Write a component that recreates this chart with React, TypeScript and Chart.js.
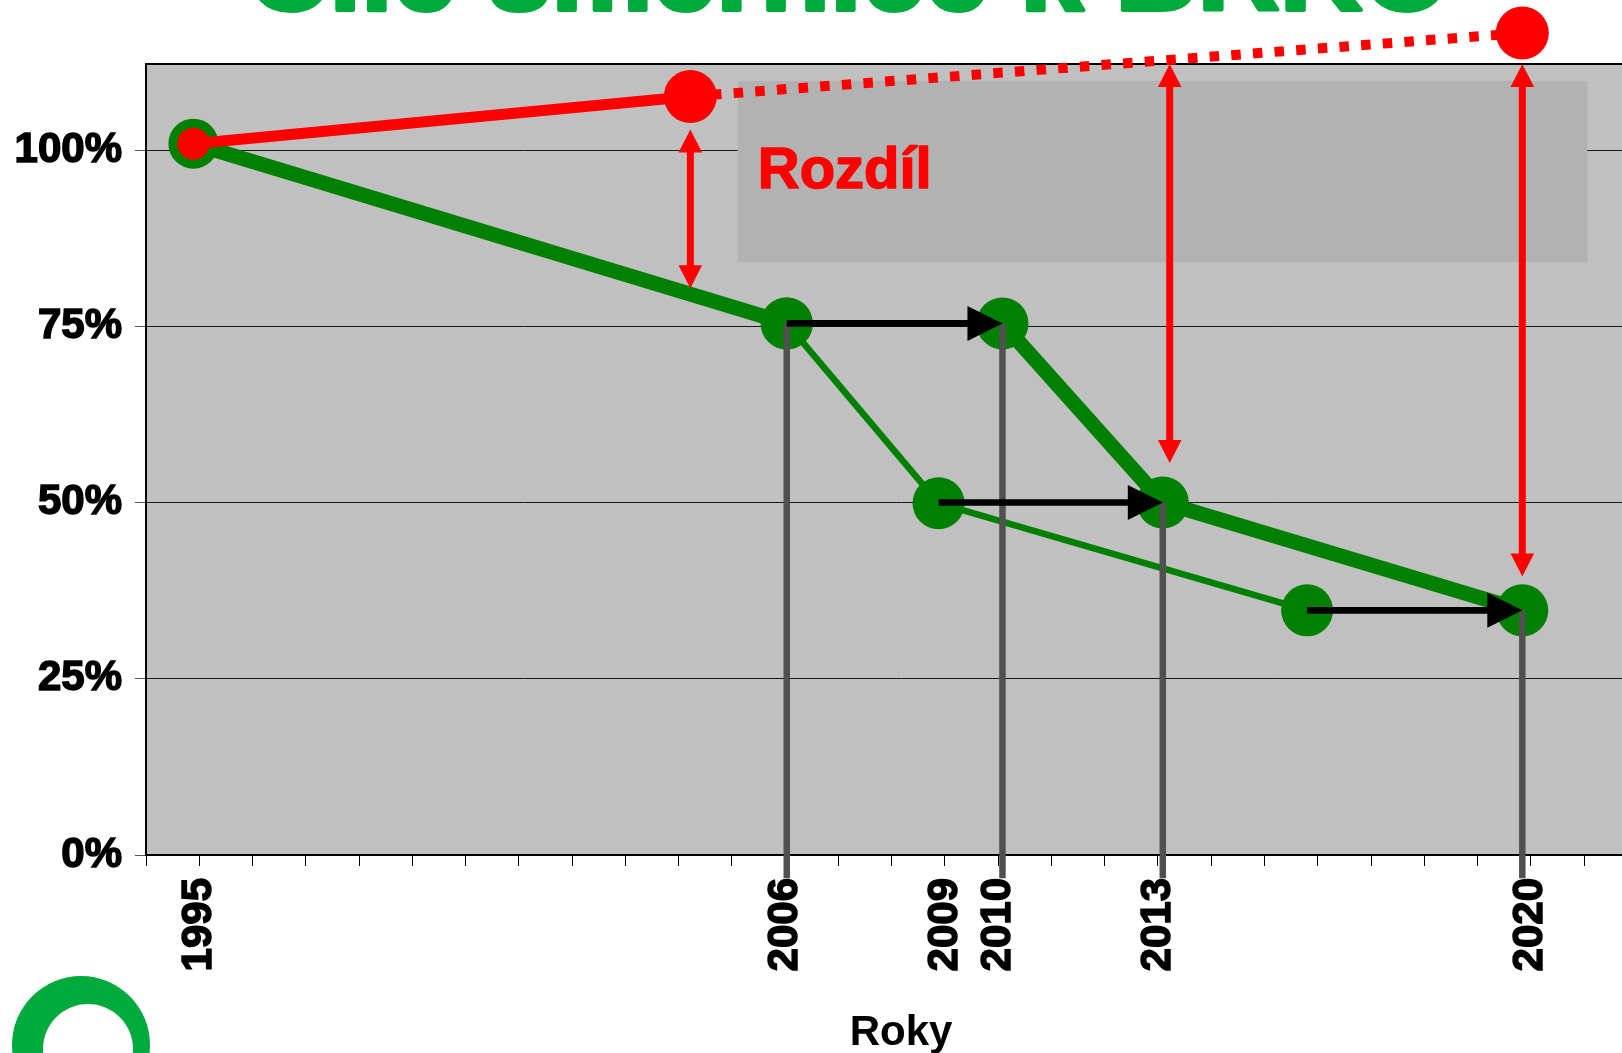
import React, { useEffect, useRef } from 'react';
import { Chart, registerables } from 'chart.js';

Chart.register(...registerables);

const FONT = "'Liberation Sans', Arial, Helvetica, sans-serif";

// ---- texts ----
const titleText = 'Cíle směrnice k BRKO';
const xAxisTitle = 'Roky';
const gapLabel = 'Rozdíl';

// ---- axes ----
const yearTicks = [1994, 1995, 1996, 1997, 1998, 1999, 2000, 2001, 2002, 2003, 2004, 2005, 2006, 2007,
  2008, 2009, 2010, 2011, 2012, 2013, 2014, 2015, 2016, 2017, 2018, 2019, 2020, 2021, 2022];
const labeledYears = [1995, 2006, 2009, 2010, 2013, 2020];
const yTickValues = [0, 25, 50, 75, 100];
const xMin = 1994;
const xMax = 2022.35;
const yMin = 0;
const yMax = 112.2;

// ---- red series (target, solid then dotted) ----
const targetYears = [1994.89, 2004.22, 2019.84];
const targetValues = [100.9, 107.6, 116.6];

// ---- thick green series (directive path; break between 2006 and 2010) ----
const directiveYears = [1994.89, 2006.03, 2008.0, 2010.08, 2013.09, 2019.84];
const directiveValues = [100.9, 75.4, null, 75.4, 50, 34.7];

// ---- thin green series (original plan) ----
const planYears = [2006.03, 2008.88, 2015.8];
const planValues = [75.4, 49.9, 34.7];

// ---- black shift arrows ----
const shiftFromYears = [2006.03, 2008.88, 2015.8];
const shiftToYears = [2010.08, 2013.09, 2019.84];
const shiftValues = [75.4, 50, 34.7];

// ---- red difference arrows ----
const gapYears = [2004.22, 2013.22, 2019.84];
const gapTopValues = [102.9, 112.2, 112.2];
const gapBottomValues = [80.4, 55.6, 39.5];

// ---- grey drop lines ----
const dropYears = [2006.03, 2010.08, 2013.09, 2019.84];
const dropValues = [75.4, 75.4, 50, 34.7];
const dropEndValue = -3.3;

// ---- "Rozdíl" highlighted region ----
const boxYears = [2005.11, 2021.06];
const boxValues = [84.1, 109.8];

function arrowHead(ctx: CanvasRenderingContext2D, tipX: number, tipY: number, dx: number, dy: number, len: number, halfW: number) {
  const bx = tipX - dx * len;
  const by = tipY - dy * len;
  const px = -dy;
  const py = dx;
  ctx.beginPath();
  ctx.moveTo(tipX, tipY);
  ctx.lineTo(bx + px * halfW, by + py * halfW);
  ctx.lineTo(bx - px * halfW, by - py * halfW);
  ctx.closePath();
  ctx.fill();
}

const decorPlugin = {
  id: 'decor',
  beforeDraw(chart: any) {
    const { ctx, chartArea: a } = chart;
    ctx.save();
    ctx.fillStyle = '#FFFFFF';
    ctx.fillRect(0, 0, chart.width, chart.height);
    ctx.fillStyle = '#C0C0C0';
    ctx.fillRect(a.left, a.top, a.right - a.left, a.bottom - a.top);
    ctx.restore();
  },
  beforeDatasetsDraw(chart: any) {
    const { ctx, chartArea: a, scales } = chart;
    const x = scales.x;
    const y = scales.y;
    ctx.save();
    const bx0 = x.getPixelForValue(boxYears[0]);
    const bx1 = x.getPixelForValue(boxYears[1]);
    const by0 = y.getPixelForValue(boxValues[1]);
    const by1 = y.getPixelForValue(boxValues[0]);
    ctx.fillStyle = '#B2B2B2';
    ctx.fillRect(bx0, by0, bx1 - bx0, by1 - by0);
    // top border of plot
    ctx.strokeStyle = '#000000';
    ctx.lineWidth = 2;
    ctx.beginPath();
    ctx.moveTo(a.left, a.top);
    ctx.lineTo(a.right, a.top);
    ctx.stroke();
    ctx.restore();
  },
  afterDatasetsDraw(chart: any) {
    const { ctx, scales, chartArea: a } = chart;
    const x = scales.x;
    const y = scales.y;
    ctx.save();
    // points lying outside the plot area (the library skips them)
    chart.data.datasets.forEach((_ds: any, di: number) => {
      const meta = chart.getDatasetMeta(di);
      meta.data.forEach((pt: any) => {
        if (pt.skip) return;
        const r = pt.options.radius;
        const inside = pt.x > a.left - r && pt.x < a.right + r && pt.y > a.top - r && pt.y < a.bottom + r;
        if (!inside) {
          ctx.fillStyle = pt.options.backgroundColor;
          ctx.beginPath();
          ctx.arc(pt.x, pt.y, r, 0, Math.PI * 2);
          ctx.fill();
        }
      });
    });
    // grey drop lines
    ctx.strokeStyle = '#505050';
    ctx.lineWidth = 6.5;
    ctx.lineCap = 'butt';
    dropYears.forEach((yr, i) => {
      const px = x.getPixelForValue(yr);
      ctx.beginPath();
      ctx.moveTo(px, y.getPixelForValue(dropValues[i]));
      ctx.lineTo(px, y.getPixelForValue(dropEndValue));
      ctx.stroke();
    });
    // black shift arrows
    ctx.strokeStyle = '#000000';
    ctx.fillStyle = '#000000';
    ctx.lineWidth = 6.7;
    shiftFromYears.forEach((yr, i) => {
      const x0 = x.getPixelForValue(yr);
      const x1 = x.getPixelForValue(shiftToYears[i]);
      const py = y.getPixelForValue(shiftValues[i]);
      ctx.beginPath();
      ctx.moveTo(x0, py);
      ctx.lineTo(x1 - 34, py);
      ctx.stroke();
      arrowHead(ctx, x1, py, 1, 0, 35, 17.5);
    });
    // red difference arrows
    ctx.strokeStyle = '#FF0000';
    ctx.fillStyle = '#FF0000';
    ctx.lineWidth = 7;
    gapYears.forEach((yr, i) => {
      const px = x.getPixelForValue(yr);
      const top = y.getPixelForValue(gapTopValues[i]);
      const bot = y.getPixelForValue(gapBottomValues[i]);
      ctx.beginPath();
      ctx.moveTo(px, top + 22);
      ctx.lineTo(px, bot - 22);
      ctx.stroke();
      arrowHead(ctx, px, top, 0, -1, 23, 11.8);
      arrowHead(ctx, px, bot, 0, 1, 23, 11.8);
    });
    // label in the box
    const bx0 = x.getPixelForValue(boxYears[0]);
    const by0 = y.getPixelForValue(boxValues[1]);
    ctx.fillStyle = '#FF0000';
    ctx.strokeStyle = '#FF0000';
    ctx.lineWidth = 1.5;
    ctx.lineJoin = 'round';
    ctx.font = `bold 58px ${FONT}`;
    ctx.textAlign = 'left';
    ctx.textBaseline = 'alphabetic';
    ctx.fillText(gapLabel, bx0 + 20, by0 + 107);
    ctx.strokeText(gapLabel, bx0 + 20, by0 + 107);
    ctx.restore();
  },
  afterDraw(chart: any) {
    const { ctx } = chart;
    ctx.save();
    // title (cropped at the top of the picture)
    ctx.fillStyle = '#00AA3C';
    ctx.strokeStyle = '#00AA3C';
    ctx.lineWidth = 4;
    ctx.lineJoin = 'round';
    ctx.font = `bold 114px ${FONT}`;
    ctx.textAlign = 'left';
    ctx.textBaseline = 'alphabetic';
    ctx.fillText(titleText, 247, 10);
    ctx.strokeText(titleText, 247, 10);
    // logo ring (bottom-left)
    ctx.beginPath();
    ctx.arc(81, 1045, 69, 0, Math.PI * 2);
    ctx.arc(88, 1049, 45, 0, Math.PI * 2, true);
    ctx.fill('evenodd');
    ctx.restore();
  },
};

export default function App() {
  const canvasRef = useRef<HTMLCanvasElement | null>(null);

  useEffect(() => {
    const canvas = canvasRef.current;
    if (!canvas) return;
    const chart = new Chart(canvas, {
      type: 'line',
      data: {
        datasets: [
          {
            label: 'Cíl',
            data: targetYears.map((yr, i) => ({ x: yr, y: targetValues[i] })),
            borderColor: '#FF0000',
            backgroundColor: '#FF0000',
            borderWidth: 11,
            borderCapStyle: 'butt',
            pointRadius: [16, 26.5, 26.5],
            pointBorderWidth: 0,
            pointHoverRadius: [16, 26.5, 26.5],
            pointBackgroundColor: '#FF0000',
            segment: {
              borderDash: (c: any) => (c.p0DataIndex >= 1 ? [9.5, 12.2] : undefined),
              borderWidth: (c: any) => (c.p0DataIndex >= 1 ? 10 : 11),
            },
            clip: false,
            tension: 0,
          } as any,
          {
            label: 'Směrnice',
            data: directiveYears.map((yr, i) => ({ x: yr, y: directiveValues[i] })),
            borderColor: '#008000',
            backgroundColor: '#008000',
            borderWidth: 15,
            spanGaps: false,
            pointRadius: [25, 26, 0, 26, 26, 26],
            pointHoverRadius: [25, 26, 0, 26, 26, 26],
            pointBorderWidth: 0,
            pointBackgroundColor: '#008000',
            clip: false,
            tension: 0,
          } as any,
          {
            label: 'Plán',
            data: planYears.map((yr, i) => ({ x: yr, y: planValues[i] })),
            borderColor: '#008000',
            backgroundColor: '#008000',
            borderWidth: 6.5,
            pointRadius: 26,
            pointHoverRadius: 26,
            pointBorderWidth: 0,
            pointBackgroundColor: '#008000',
            clip: false,
            tension: 0,
          } as any,
        ],
      },
      options: {
        responsive: false,
        animation: false,
        devicePixelRatio: 1,
        events: [],
        layout: { autoPadding: false, padding: { top: 64, left: 0, right: 0, bottom: 0 } },
        plugins: {
          legend: { display: false },
          tooltip: { enabled: false },
          title: { display: false },
        },
        scales: {
          x: {
            type: 'linear',
            min: xMin,
            max: xMax,
            afterBuildTicks: (s: any) => {
              s.ticks = yearTicks.map((v) => ({ value: v }));
            },
            afterFit: (s: any) => {
              s.height = 198;
              s.paddingLeft = 0;
              s.paddingRight = 0;
            },
            ticks: {
              autoSkip: false,
              minRotation: 90,
              maxRotation: 90,
              padding: 12,
              color: '#000000',
              textStrokeColor: '#000000',
              textStrokeWidth: 1.5,
              font: { family: FONT, size: 42, weight: 'bold' },
              callback: (v: any) => (labeledYears.includes(Number(v)) ? String(v) : ''),
            },
            grid: {
              drawOnChartArea: false,
              drawTicks: true,
              tickLength: 11,
              tickColor: '#000000',
              tickWidth: 1,
            },
            border: { display: true, color: '#000000', width: 2 },
            title: {
              display: true,
              text: xAxisTitle,
              color: '#000000',
              font: { family: FONT, size: 42, weight: 'bold' },
              padding: { top: 0, bottom: -6 },
            },
          },
          y: {
            type: 'linear',
            min: yMin,
            max: yMax,
            afterBuildTicks: (s: any) => {
              s.ticks = yTickValues.map((v) => ({ value: v }));
            },
            afterFit: (s: any) => {
              s.width = 146;
              s.paddingTop = 0;
              s.paddingBottom = 0;
            },
            ticks: {
              padding: 13,
              color: '#000000',
              textStrokeColor: '#000000',
              textStrokeWidth: 1.5,
              font: { family: FONT, size: 42, weight: 'bold' },
              callback: (v: any) => `${v}%`,
            },
            grid: {
              color: '#1a1a1a',
              lineWidth: 1,
              drawTicks: true,
              tickLength: 11,
              tickColor: '#555555',
            },
            border: { display: true, color: '#000000', width: 2 },
          },
        },
      } as any,
      plugins: [decorPlugin],
    });
    return () => chart.destroy();
  }, []);

  return (
    <div
      style={{
        position: 'fixed',
        left: 0,
        top: 0,
        width: 1622,
        height: 1053,
        overflow: 'hidden',
        background: '#FFFFFF',
      }}
    >
      <canvas
        ref={canvasRef}
        width={1656}
        height={1053}
        style={{ display: 'block', width: 1656, height: 1053 }}
      />
    </div>
  );
}
